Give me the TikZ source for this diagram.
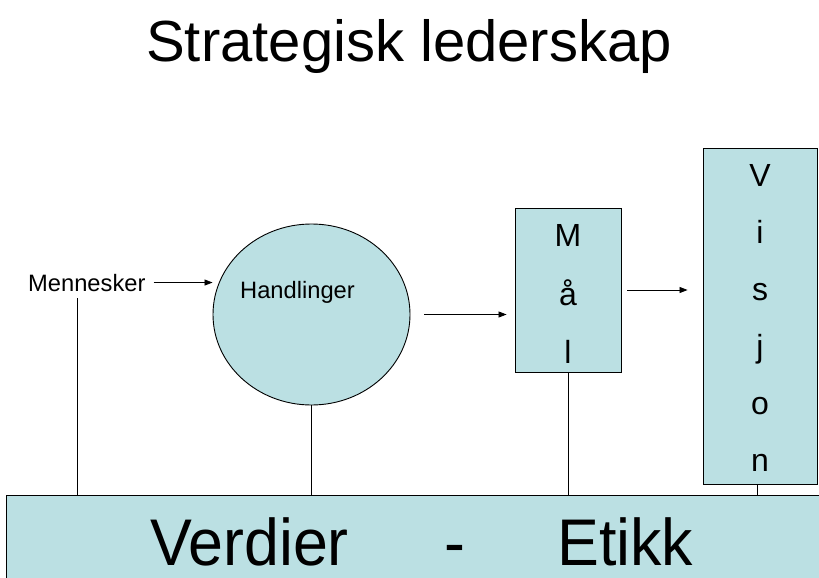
\documentclass[tikz,border=0pt]{standalone}
\usepackage{fontspec}
\setmainfont{Liberation Sans}
\usetikzlibrary{arrows.meta,shapes.geometric}
\definecolor{boxfill}{HTML}{BBE0E3}
\begin{document}
\begin{tikzpicture}[x=1pt,y=-1pt,
  shapebox/.style={draw=black,line width=0.9pt,fill=boxfill,inner sep=0pt},
  lbl/.style={inner sep=0pt,font=\fontsize{23.7}{27}\selectfont},
  letter/.style={inner sep=0pt,anchor=base,font=\fontsize{32}{36}\selectfont},
  bigtext/.style={inner sep=0pt,anchor=base west,font=\fontsize{66}{72}\selectfont},
  link/.style={line width=0.8pt},
  arr/.style={line width=0.8pt,-{Triangle[length=8pt,width=6pt]}}]
\useasboundingbox (0,0) rectangle (819,578);
\fill[white] (0,0) rectangle (819,578);
% title
\node[anchor=base,inner sep=0pt,font=\fontsize{58}{64}\selectfont] (title) at (409,62) {Strategisk lederskap};
% bottom bar
\node[shapebox,rectangle,minimum width=840pt,minimum height=110pt,anchor=north west] (bottom) at (6,495) {};
\node[bigtext] (verdier) at (150,565) {\scalebox{0.95}[1]{Verdier}};
\node[bigtext] (dash) at (444,565) {\scalebox{0.95}[1]{-}};
\node[bigtext] (etikk) at (557,565) {\scalebox{0.95}[1]{Etikk}};
% shapes
\node[shapebox,ellipse,minimum width=197pt,minimum height=181pt] (hand) at (311.5,314.5) {};
\node[lbl,anchor=base west] (handtxt) at (240,298) {Handlinger};
\node[shapebox,rectangle,minimum width=106pt,minimum height=164pt] (maal) at (568,290) {};
\node[shapebox,rectangle,minimum width=114pt,minimum height=336pt] (vision) at (760,316) {};
\foreach \ch/\yy [count=\i] in {M/246,å/305,l/363}
  \node[letter] (maal\i) at (568,\yy) {\ch};
\foreach \ch/\yy [count=\i] in {V/186,i/243,s/300,j/357,o/414,n/471}
  \node[letter] (vis\i) at (760,\yy) {\ch};
% Mennesker
\node[lbl,anchor=base west] (men) at (28,291) {Mennesker};
\coordinate (mline) at (77,298);
% connectors
\draw[arr] ([xshift=8pt]men.east) -- (hand.west |- men.east);
\draw[arr] ([xshift=14pt]hand.east) -- ([xshift=-8pt]maal.west |- hand.east);
\draw[arr] ([xshift=6pt]maal.east) -- ([xshift=-15pt]vision.west |- maal.east);
\draw[link] (mline) -- (mline |- bottom.north);
\draw[link] (hand.south) -- (hand.south |- bottom.north);
\draw[link] (maal.south) -- (maal.south |- bottom.north);
\draw[link] ([xshift=-3pt]vision.south) -- ([xshift=-3pt]vision.south |- bottom.north);
\end{tikzpicture}
\end{document}
